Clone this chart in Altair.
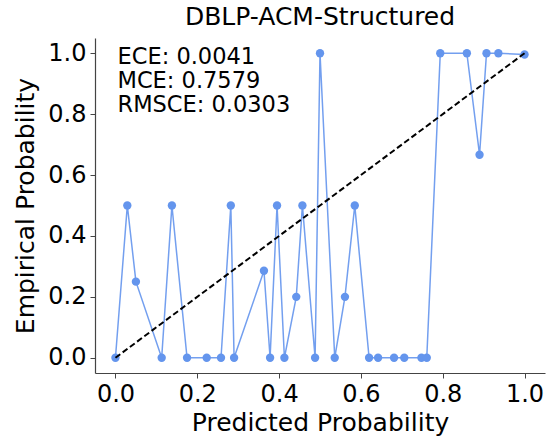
import altair as alt
import pandas as pd

pred = [0.0, 0.029, 0.050, 0.113, 0.138, 0.175, 0.223, 0.258, 0.282, 0.290,
        0.363, 0.378, 0.395, 0.413, 0.442, 0.457, 0.488, 0.500, 0.536, 0.561,
        0.585, 0.620, 0.642, 0.681, 0.706, 0.748, 0.761, 0.794, 0.859, 0.890,
        0.907, 0.936, 1.0]
emp = [0.0, 0.5, 0.25, 0.0, 0.5, 0.0, 0.0, 0.0, 0.5, 0.0,
       0.2857, 0.0, 0.5, 0.0, 0.2, 0.5, 0.0, 1.0, 0.0, 0.2,
       0.5, 0.0, 0.0, 0.0, 0.0, 0.0, 0.0, 1.0, 1.0, 0.6667,
       1.0, 1.0, 0.996]
diag_x = [0.0, 1.0]
diag_y = [0.0, 1.0]
tick_vals = [0.0, 0.2, 0.4, 0.6, 0.8, 1.0]
metrics_text = "ECE: 0.0041\nMCE: 0.7579\nRMSCE: 0.0303"
title_text = "DBLP-ACM-Structured"

df = pd.DataFrame({"pred": pred, "emp": emp})
diag = pd.DataFrame({"x": diag_x, "y": diag_y})

FONT = "DejaVu Sans"
xscale = alt.Scale(domain=[-0.05, 1.05], nice=False, zero=False)
yscale = alt.Scale(domain=[-0.05, 1.05], nice=False, zero=False)

xenc = alt.X("pred:Q", scale=xscale,
             axis=alt.Axis(values=tick_vals, format=".1f", title="Predicted Probability"))
yenc = alt.Y("emp:Q", scale=yscale,
             axis=alt.Axis(values=tick_vals, format=".1f", title="Empirical Probability"))

line = alt.Chart(df).mark_line(color="#6495ED", strokeWidth=1.5, opacity=0.9).encode(x=xenc, y=yenc)
pts = alt.Chart(df).mark_circle(color="#6495ED", size=70, opacity=1).encode(x=xenc, y=yenc)
dline = alt.Chart(diag).mark_line(color="black", strokeWidth=2, strokeDash=[6, 3]).encode(
    x=alt.X("x:Q", scale=xscale), y=alt.Y("y:Q", scale=yscale))
txt = alt.Chart(pd.DataFrame({"t": [metrics_text]})).mark_text(
    align="left", baseline="alphabetic", font=FONT, fontSize=22.5, lineBreak="\n",
    lineHeight=24, color="black").encode(
    x=alt.value(22.5), y=alt.value(25.5), text="t:N")

chart = alt.layer(line, pts, dline, txt).properties(
    width=450, height=335,
    title=alt.TitleParams(title_text, font=FONT, fontSize=25, fontWeight="normal",
                          anchor="middle", color="black", offset=8),
    autosize=alt.AutoSizeParams(type="none"),
    padding={"left": 95, "top": 38, "right": 7, "bottom": 67},
).configure_view(stroke=None).configure_axis(
    grid=False, labelFont=FONT, titleFont=FONT, labelFontSize=24, titleFontSize=25,
    titleFontWeight="normal", labelColor="black", titleColor="black",
    domainColor="#444", tickColor="#444", domainWidth=1.2, tickSize=5, labelPadding=4,
).configure_axisX(titlePadding=4).configure_axisY(titlePadding=9)

chart.save("out.html", embed_options={"renderer": "svg", "actions": False})
